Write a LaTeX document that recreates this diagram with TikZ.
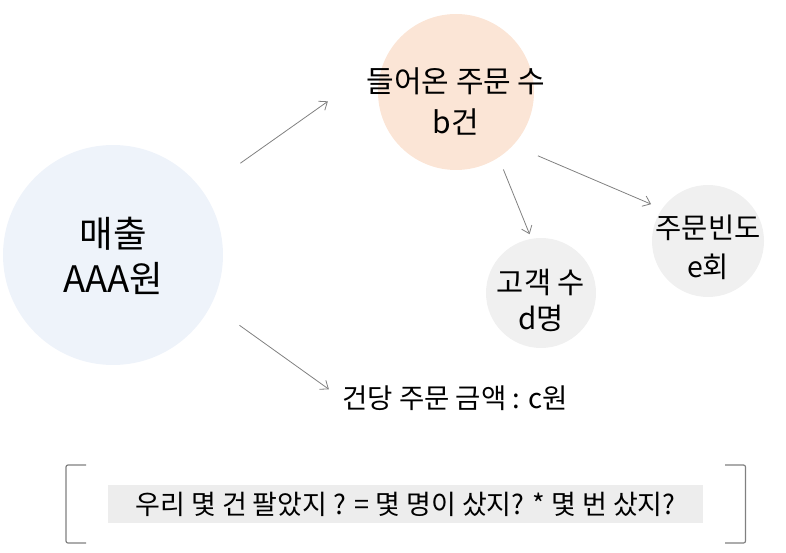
\documentclass[tikz,border=0pt]{standalone}
\usepackage{fontspec}
\setmainfont{Noto Sans CJK KR}
\usetikzlibrary{arrows.meta,positioning,calc}
\definecolor{salesBlue} {RGB}{238,243,250}
\definecolor{orderPeach}{RGB}{251,229,214}
\definecolor{softGray}  {RGB}{240,240,240}
\definecolor{boxGray}   {RGB}{237,237,237}
\definecolor{lineGray}  {RGB}{128,128,128}

\begin{document}
\begin{tikzpicture}[x=1pt,y=1pt,
    bubble/.style={circle,draw=none,inner sep=0pt,outer sep=0pt},
    caption/.style={align=center,inner sep=1pt,text=black},
    link/.style={-{Straight Barb[length=7pt,width=11pt]},lineGray,line width=0.8pt}]
    \useasboundingbox (0,0) rectangle (786,552);

    % ── VENDAS ─────────────────────────────────────────────
    \node[bubble,fill=salesBlue,minimum size=220pt] (sales) at (113,297){};
    \node[caption,font=\fontsize{36.5}{45}\selectfont] (salesText) at (113,296.5){매출\\AAA원};

    % ── PEDIDOS ────────────────────────────────────────────
    \node[bubble,fill=orderPeach,minimum size=156pt] (orders) at (456,460){};
    \node[caption,font=\fontsize{30}{41}\selectfont] (ordersText) at (456,450.5){들어온 주문 수\\b건};

    \node[bubble,fill=softGray,minimum size=110pt] (cust) at (541,259){};
    \node[caption,font=\fontsize{29.5}{36}\selectfont] (custText) at (541,252){고객 수\\d명};

    \node[bubble,fill=softGray,minimum size=112pt] (freq) at (708,311){};
    \node[caption,font=\fontsize{28.5}{39}\selectfont] (freqText) at (708,304.5){주문빈도\\e회};

    \node[caption,font=\fontsize{27.5}{32}\selectfont] (perOrder) at (455,154){건당 주문 금액 : c원};

    % setas
    \draw[link,shorten <=47pt,shorten >=69pt] (sales.36) -- (orders.157);
    \draw[link,shorten <=35pt,shorten >=15pt] (sales.-27) -- (perOrder.west);
    \draw[link,shorten <=13pt,shorten >=5pt] (orders.-57) -- (cust.100);
    \draw[link,shorten <=27pt,shorten >=12pt] (orders.-43) -- (freq.145);

    % ── PERGUNTA ───────────────────────────────────────────
    \node[fill=boxGray,inner sep=0pt,minimum width=595pt,minimum height=38pt,
          font=\fontsize{27}{32}\selectfont] (question) at (405.5,48)
          {우리 몇 건 팔았지 ? = 몇 명이 샀지? * 몇 번 샀지?};
    \draw[lineGray,line width=1.2pt,rounded corners=2pt] (86,87) -- (66,87) -- (66,9) -- (86,9);
    \draw[lineGray,line width=1.2pt,rounded corners=2pt] (725,87) -- (745.5,87) -- (745.5,9) -- (725,9);

\end{tikzpicture}
\end{document}
